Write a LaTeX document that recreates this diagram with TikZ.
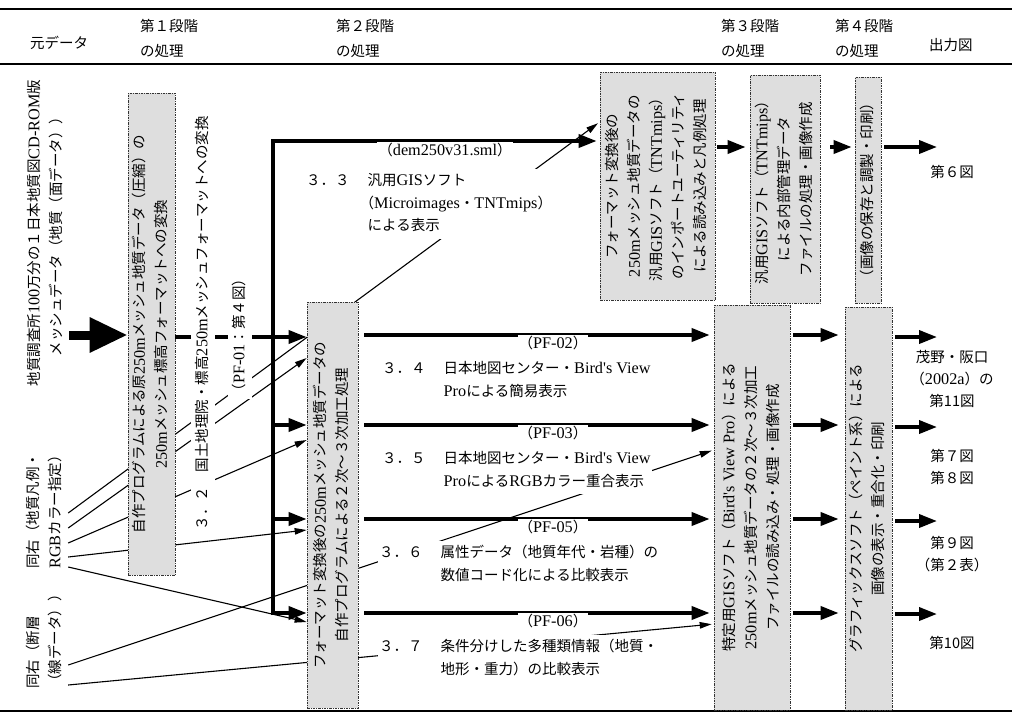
\documentclass[tikz,border=0pt]{standalone}
\usepackage{fontspec}
\setmainfont{Noto Sans CJK JP}
\newfontfamily\lt[Scale=1.12]{Liberation Serif}
\usepackage{graphicx}
\usetikzlibrary{arrows.meta}
\pgfdeclarelayer{back}
\pgfdeclarelayer{bg}
\pgfsetlayers{back,bg,main}
\newcommand{\vtext}[2]{\rotatebox{90}{\begin{tabular}{@{}#1@{}}#2\end{tabular}}}
\tikzset{
  every node/.style={font=\fontsize{14.5}{22}\selectfont, inner sep=1pt},
  box/.style={draw=black!80, line width=0.7pt, dash pattern=on 2.5pt off 1.2pt on 0.6pt off 1.2pt, fill=black!13},
  wt/.style={fill=white, inner sep=1pt},
  thk/.style={line width=3.6pt},
  thka/.style={thk, -{Triangle[length=18pt,width=13pt]}},
  thn/.style={line width=1.1pt, -{Triangle[length=12pt,width=6.5pt]}},
  big/.style={line width=9pt, -{Triangle[length=38pt,width=33pt]}},
  rule/.style={line width=1.8pt},
  hdr/.style={font=\fontsize{14.5}{25}\selectfont, align=left, anchor=north west},
  lab/.style={wt, anchor=north west, font=\fontsize{14.5}{22.5}\selectfont},
}
\begin{document}
\begin{tikzpicture}[x=1pt,y=-1pt]
\useasboundingbox (0,0) rectangle (1012,716);
\begin{pgfonlayer}{back}
\fill[white] (0,0) rectangle (1012,716);
\end{pgfonlayer}

% rules
\draw[rule] (0,9) -- (1012,9);
\draw[rule] (0,64) -- (1012,64);
\draw[rule] (0,711) -- (1012,711);

% headers
\node[anchor=west] (h0) at (29,43) {元データ};
\node[hdr] (h1) at (139,18) {第１段階\\の処理};
\node[hdr] (h2) at (335,18) {第２段階\\の処理};
\node[hdr] (h3) at (720,18) {第３段階\\の処理};
\node[hdr] (h4) at (834,18) {第４段階\\の処理};
\node[anchor=west] (h5) at (928,45) {出力図};

% source data
\node (src1) at (46,233) {\vtext{c}{地質調査所{\lt 100}万分の１日本地質図{\lt CD-ROM}版\\メッシュデータ（地質（面データ））}};
\node[anchor=south] (src2) at (45,570) {\vtext{l}{同右（地質凡例・\\{\lt RGB}カラー指定）}};
\node[anchor=south] (src3) at (45,690) {\vtext{l}{同右（断層\\（線データ））}};

% process boxes
\node[box, minimum width=47, minimum height=482] (A) at (151.5,334) {\vtext{c}{自作プログラムによる原{\lt 250m}メッシュ地質データ（圧縮）の\\{\lt 250m}メッシュ標高フォーマットへの変換}};
\node[box, minimum width=51, minimum height=406] (B2) at (332.5,505) {\vtext{c}{フォーマット変換後の{\lt 250m}メッシュ地質データの\\自作プログラムによる２次～３次加工処理}};
\node[box, minimum width=115, minimum height=228] (C1) at (657.5,186) {\vtext{c}{フォーマット変換後の\\{\lt 250m}メッシュ地質データの\\汎用{\lt GIS}ソフト（{\lt TNTmips}）\\のインポートユーティリティ\\による読み込みと凡例処理}};
\node[box, minimum width=70, minimum height=228] (C2) at (785,189) {\vtext{c}{汎用{\lt GIS}ソフト（{\lt TNTmips}）\\による内部管理データ\\ファイルの処理・画像作成}};
\node[box, minimum width=26, minimum height=226] (D1) at (868,190) {\vtext{c}{（画像の保存と調製・印刷）}};
\node[box, minimum width=76, minimum height=405] (C3) at (752,507.5) {\vtext{c}{特定用{\lt GIS}ソフト（{\lt Bird's View Pro}）による\\{\lt 250m}メッシュ地質データの２次～３次加工\\ファイルの読み込み・処理・画像作成}};
\node[box, minimum width=47, minimum height=403] (D2) at (868.5,508.5) {\vtext{c}{グラフィックスソフト（ペイント系）による\\画像の表示・重合化・印刷}};

% thin connectors (behind boxes and labels)
\begin{pgfonlayer}{bg}
\draw[thn, shorten >=2pt] (src2.east |- 0,513) -- (C1.west |- 0,122);
\draw[thn] (src2.east |- 0,528) -- (B2.west |- 0,358);
\draw[thn] (src2.east |- 0,543) -- (B2.west |- 0,440);
\draw[thn] (src2.east |- 0,557) -- (B2.west |- 0,530);
\draw[thn] (src2.east |- 0,567) -- (B2.west |- 0,622);
\draw[thn, shorten >=2pt] (src3.east |- 0,665) -- (C3.west |- 0,450);
\draw[thn, shorten >=2pt] (src3.east |- 0,685) -- (C3.west |- 0,624);
\end{pgfonlayer}

% main arrows
\draw[big] (src1.east |- 0,335) -- (A.west |- 0,335);
\draw[thka] (A.east |- 0,337) -- (B2.west |- 0,337);
\coordinate (bt) at (273,141);
\coordinate (b3) at (273,425);
\coordinate (b5) at (273,519);
\coordinate (bb) at (273,613);
\draw[thka, line join=miter, line cap=rect, shorten >=3pt] (bb) -- (bt) -- (C1.west |- bt);
\draw[thka] (b3) -- (B2.west |- b3);
\draw[thka] (b5) -- (B2.west |- b5);
\draw[thka] (bb) -- (B2.west |- bb);

\draw[thka, shorten <=6pt, shorten >=4pt] (B2.east |- 0,335) -- (C3.west |- 0,335);
\draw[thka, shorten <=6pt, shorten >=4pt] (B2.east |- 0,425) -- (C3.west |- 0,425);
\draw[thka, shorten <=6pt, shorten >=4pt] (B2.east |- 0,519) -- (C3.west |- 0,519);
\draw[thka, shorten <=6pt, shorten >=4pt] (B2.east |- 0,613) -- (C3.west |- 0,613);

\draw[thka, shorten <=2pt, shorten >=4pt] (C1.east |- 0,147) -- (C2.west |- 0,147);
\draw[thka, shorten <=10pt, shorten >=3pt] (C2.east |- 0,147) -- (D1.west |- 0,147);
\foreach \r in {335,425,519,613}{
  \draw[thka, shorten <=3pt, shorten >=6pt] (C3.east |- 0,\r) -- (D2.west |- 0,\r);
}

% outputs
\node (o6) at (952,172) {第６図};
\node[align=center, anchor=north] (o11) at (952,349) {茂野・阪口\\（{\lt 2002a}）の\\第11図};
\node[align=center] (o78) at (952,467) {第７図\\第８図};
\node[align=center] (o9) at (952,554) {第９図\\（第２表）};
\node (o10) at (952,643) {第10図};
\coordinate (e1) at (937,147);
\coordinate (e2) at (937,337);
\coordinate (e3) at (937,427);
\coordinate (e5) at (937,521);
\coordinate (e6) at (937,614);
\draw[thka, shorten <=3pt] (D1.east |- e1) -- (e1);
\draw[thka, shorten <=3pt] (D2.east |- e2) -- (e2);
\draw[thka, shorten <=3pt] (D2.east |- e3) -- (e3);
\draw[thka, shorten <=3pt] (D2.east |- e5) -- (e5);
\draw[thka, shorten <=3pt] (D2.east |- e6) -- (e6);

% labels over lines
\node[wt] (t32) at (203,323) {\vtext{c}{３．２　国土地理院・標高{\lt 250m}メッシュフォーマットへの変換}};
\node[wt] (pf1) at (240,335) {\vtext{c}{（{\lt PF-01}：第４図）}};
\node[wt] (dem) at (445,150) {（{\lt dem250v31.sml}）};
\node[wt] (pf2) at (553,343) {（{\lt PF-02}）};
\node[wt] (pf3) at (553,433) {（{\lt PF-03}）};
\node[wt] (pf5) at (553,527) {（{\lt PF-05}）};
\node[wt] (pf6) at (553,621) {（{\lt PF-06}）};

\node[lab] (t33) at (305,169) {\begin{tabular}{@{}l@{\hspace{18pt}}l@{}}３．３ & 汎用{\lt GIS}ソフト\\ & \hspace{-8pt}（{\lt Microimages}・{\lt TNTmips}）\\ & による表示\end{tabular}};
\node[lab] (t34) at (381,357) {\begin{tabular}{@{}l@{\hspace{18pt}}l@{}}３．４ & 日本地図センター・{\lt Bird's View}\\ & {\lt Pro}による簡易表示\end{tabular}};
\node[lab] (t35) at (381,447) {\begin{tabular}{@{}l@{\hspace{18pt}}l@{}}３．５ & 日本地図センター・{\lt Bird's View}\\ & {\lt Pro}による{\lt RGB}カラー重合表示\end{tabular}};
\node[lab] (t36) at (378,541) {\begin{tabular}{@{}l@{\hspace{18pt}}l@{}}３．６ & 属性データ（地質年代・岩種）の\\ & 数値コード化による比較表示\end{tabular}};
\node[lab] (t37) at (378,635) {\begin{tabular}{@{}l@{\hspace{18pt}}l@{}}３．７ & 条件分けした多種類情報（地質・\\ & 地形・重力）の比較表示\end{tabular}};
\end{tikzpicture}
\end{document}
